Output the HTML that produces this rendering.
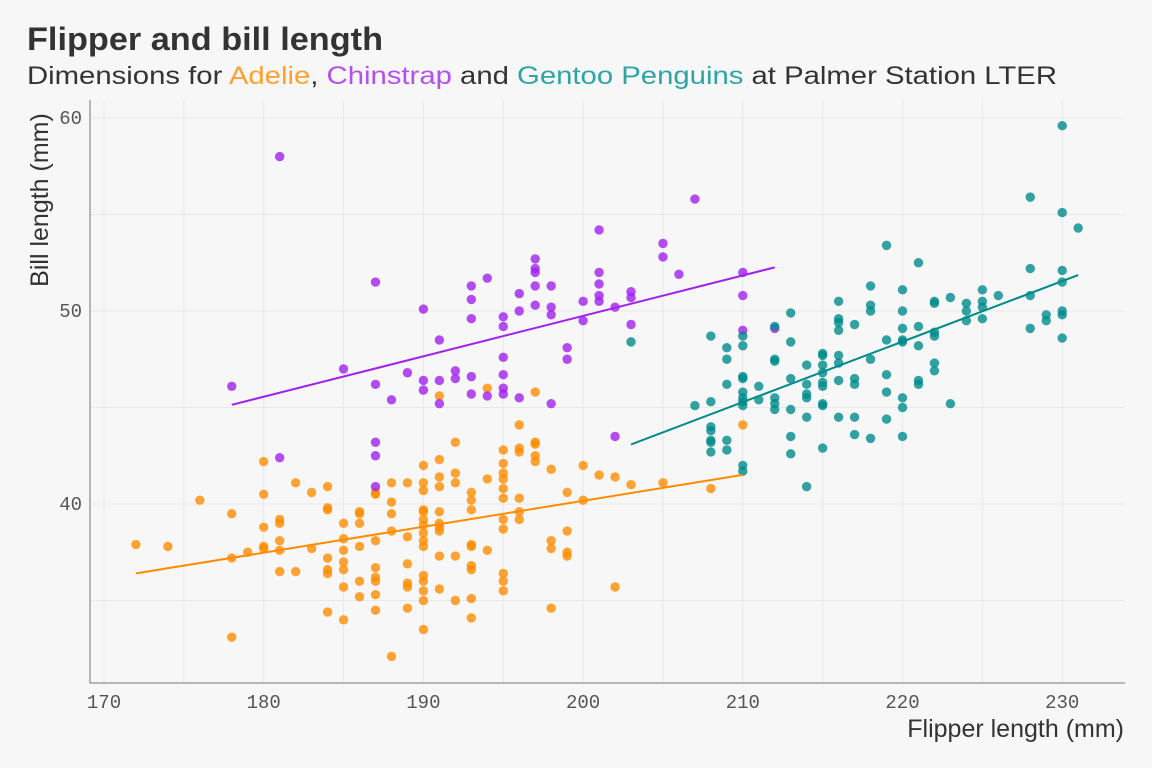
<!DOCTYPE html>
<html><head><meta charset="utf-8"><style>
html,body{margin:0;padding:0;background:#F7F7F7;}
svg{display:block;font-family:"Liberation Sans",sans-serif;}
</style></head><body>
<svg id="chart" width="1152" height="768" viewBox="0 0 1152 768" xmlns="http://www.w3.org/2000/svg">
<rect x="0" y="0" width="1152" height="768" fill="#F7F7F7"/>
<text x="27" y="50" font-size="32" font-weight="bold" fill="#333" textLength="356" lengthAdjust="spacingAndGlyphs">Flipper and bill length</text>
<text x="27" y="84" font-size="25" fill="#333" textLength="1030" lengthAdjust="spacingAndGlyphs">Dimensions for <tspan fill="#FFA033">Adelie</tspan>, <tspan fill="#B450EE">Chinstrap</tspan> and <tspan fill="#2EA5A5">Gentoo Penguins</tspan> at Palmer Station LTER</text>
<g id="grid"></g>
<g id="axes"></g>
<g id="points"></g>
<g id="lines"></g>
<text transform="translate(48,200) rotate(-90)" text-anchor="middle" font-size="25" fill="#333">Bill length (mm)</text>
<text x="1124" y="737" text-anchor="end" font-size="25" fill="#333">Flipper length (mm)</text>
</svg>
<script>
const xTicks = [170,180,190,200,210,220,230];
const xMinor = [175,185,195,205,215,225];
const yTicks = [40,50,60];
const yMinor = [35,45,55];
const adelie = [[172,37.9],[174,37.8],[176,40.2],[178,39.5],[178,37.2],[178,33.1],[179,37.5],[180,42.2],[180,40.5],[180,38.8],[180,37.8],[180,37.7],[181,39.2],[181,39.0],[181,38.1],[181,37.6],[181,36.5],[182,41.1],[182,36.5],[183,40.6],[183,37.7],[184,40.9],[184,39.8],[184,39.7],[184,37.2],[184,36.6],[184,36.4],[184,34.4],[185,39.0],[185,38.2],[185,37.6],[185,37.0],[185,36.6],[185,35.7],[185,34.0],[186,39.6],[186,39.5],[186,39.0],[186,37.8],[186,36.0],[186,35.2],[187,40.6],[187,40.5],[187,38.1],[187,36.7],[187,36.2],[187,36.0],[187,35.3],[187,34.5],[188,41.1],[188,40.1],[188,39.5],[188,38.6],[188,32.1],[189,41.1],[189,38.3],[189,36.9],[189,35.9],[189,35.7],[189,34.6],[190,42.0],[190,41.1],[190,40.7],[190,39.7],[190,39.6],[190,39.2],[190,38.9],[190,38.5],[190,38.1],[190,37.8],[190,36.3],[190,36.0],[190,35.5],[190,35.0],[190,33.5],[191,45.6],[191,42.3],[191,41.4],[191,40.9],[191,39.6],[191,39.0],[191,38.8],[191,38.6],[191,37.3],[191,35.6],[192,43.2],[192,41.6],[192,41.1],[192,37.3],[192,35.0],[193,40.6],[193,40.2],[193,39.7],[193,37.9],[193,37.8],[193,36.8],[193,36.6],[193,35.1],[193,34.1],[194,46.0],[194,41.3],[194,37.6],[195,42.8],[195,42.1],[195,41.6],[195,41.3],[195,40.8],[195,40.3],[195,39.2],[195,38.7],[195,36.4],[195,36.0],[195,35.5],[196,44.1],[196,42.9],[196,42.7],[196,40.3],[196,39.6],[196,39.2],[197,45.8],[197,43.2],[197,43.1],[197,42.5],[197,42.2],[198,41.8],[198,38.1],[198,37.7],[198,34.6],[199,40.6],[199,38.6],[199,37.5],[199,37.3],[200,42.0],[200,40.2],[201,41.5],[202,41.4],[202,35.7],[203,41.0],[205,41.1],[208,40.8],[210,44.1]];
const chinstrap = [[178,46.1],[181,58.0],[181,42.4],[185,47.0],[187,51.5],[187,46.2],[187,43.2],[187,42.5],[187,40.9],[188,45.4],[189,46.8],[190,50.1],[190,46.4],[190,45.9],[191,48.5],[191,46.4],[191,45.2],[192,46.9],[192,46.5],[193,51.3],[193,50.6],[193,49.6],[193,46.6],[193,45.7],[194,51.7],[194,45.6],[195,49.7],[195,49.2],[195,47.6],[195,46.7],[195,46.0],[195,45.7],[196,50.9],[196,50.0],[196,45.5],[197,52.7],[197,52.2],[197,52.0],[197,51.3],[197,50.3],[198,51.3],[198,50.2],[198,49.8],[198,45.2],[199,48.1],[199,47.5],[200,50.5],[200,49.5],[201,54.2],[201,52.0],[201,51.4],[201,50.8],[201,50.5],[202,50.2],[202,43.5],[203,51.0],[203,50.7],[203,49.3],[205,53.5],[205,52.8],[206,51.9],[207,55.8],[210,52.0],[210,50.8],[210,49.0],[212,49.1]];
const gentoo = [[203,48.4],[207,45.1],[208,48.7],[208,45.3],[208,44.0],[208,43.8],[208,43.3],[208,43.2],[208,42.7],[209,48.1],[209,47.5],[209,46.2],[209,43.3],[209,42.8],[210,48.7],[210,48.2],[210,46.6],[210,46.5],[210,45.8],[210,45.5],[210,45.3],[210,45.1],[210,42.0],[210,41.7],[211,46.1],[211,45.4],[212,49.2],[212,47.5],[212,47.4],[212,45.5],[212,45.2],[212,44.9],[213,49.9],[213,48.4],[213,46.5],[213,44.9],[213,43.5],[213,42.6],[214,47.2],[214,46.2],[214,45.7],[214,45.5],[214,44.5],[214,40.9],[215,47.8],[215,47.7],[215,47.2],[215,46.8],[215,46.3],[215,46.1],[215,45.2],[215,45.1],[215,42.9],[216,50.5],[216,49.6],[216,49.4],[216,49.0],[216,47.7],[216,47.3],[216,46.4],[216,44.5],[217,49.3],[217,46.5],[217,46.2],[217,44.5],[217,43.6],[218,51.3],[218,50.3],[218,50.0],[218,47.5],[218,43.4],[219,53.4],[219,48.5],[219,46.7],[219,45.8],[219,44.4],[220,51.1],[220,50.0],[220,49.1],[220,48.5],[220,48.4],[220,45.5],[220,45.0],[220,43.5],[221,52.5],[221,49.2],[221,48.2],[221,46.4],[221,46.2],[222,50.5],[222,50.4],[222,48.9],[222,48.7],[222,47.3],[222,46.9],[223,50.7],[223,45.2],[224,50.4],[224,50.0],[224,49.5],[225,51.1],[225,50.5],[225,50.2],[225,49.6],[226,50.8],[228,55.9],[228,52.2],[228,50.8],[228,49.1],[229,49.8],[229,49.5],[230,59.6],[230,55.1],[230,52.1],[230,51.5],[230,50.0],[230,49.8],[230,48.6],[231,54.3]];

const NS = 'http://www.w3.org/2000/svg';
const X0 = 90, X1 = 1125, Y0 = 100, Y1 = 683;
function xScale(v){ return 104 + (v - 170) * 15.97; }
function yScale(v){ return 504 - (v - 40) * 19.3; }
function mk(tag, attrs, parent){
  const e = document.createElementNS(NS, tag);
  for (const k in attrs) e.setAttribute(k, attrs[k]);
  parent.appendChild(e);
  return e;
}
const grid = document.getElementById('grid');
const axes = document.getElementById('axes');
const pts = document.getElementById('points');
const lines = document.getElementById('lines');

xMinor.concat(xTicks).forEach(t => {
  const l = mk('line', {x1: xScale(t), x2: xScale(t), y1: Y0, y2: Y1, stroke: '#E8E8E8', 'stroke-width': 1}, grid);
  
  
});
yMinor.concat(yTicks).forEach(t => {
  const l = mk('line', {x1: X0, x2: X1, y1: yScale(t), y2: yScale(t), stroke: '#E8E8E8', 'stroke-width': 1}, grid);
  
  
});
const ya = mk('line', {x1: X0, x2: X0, y1: Y0, y2: Y1, stroke: '#777', 'stroke-width': 1}, axes);


const xa = mk('line', {x1: X0, x2: X1, y1: Y1, y2: Y1, stroke: '#777', 'stroke-width': 1}, axes);


xTicks.forEach(t => {
  const tx = mk('text', {x: xScale(t), y: Y1 + 25, 'text-anchor': 'middle', 'font-size': 19, fill: '#555', 'font-family': '"Liberation Mono", monospace'}, axes);
  tx.textContent = t;
  
  
});
yTicks.forEach(t => {
  const tx = mk('text', {x: 82, y: yScale(t) + 6, 'text-anchor': 'end', 'font-size': 19, fill: '#555', 'font-family': '"Liberation Mono", monospace'}, axes);
  tx.textContent = t;
  
  
});

const series = [
  {name: 'adelie', data: adelie, color: '#FF8C00'},
  {name: 'chinstrap', data: chinstrap, color: '#A020F0'},
  {name: 'gentoo', data: gentoo, color: '#008B8B'}
];
series.forEach(s => {
  s.data.forEach(d => {
    const c = mk('circle', {cx: xScale(d[0]), cy: yScale(d[1]), r: 4.7, fill: s.color, 'fill-opacity': 0.8}, pts);
    
    
  });
});
series.forEach(s => {
  const n = s.data.length;
  let mx = 0, my = 0;
  s.data.forEach(d => { mx += d[0]; my += d[1]; });
  mx /= n; my /= n;
  let sxy = 0, sxx = 0, lo = Infinity, hi = -Infinity;
  s.data.forEach(d => { sxy += (d[0]-mx)*(d[1]-my); sxx += (d[0]-mx)*(d[0]-mx); lo = Math.min(lo, d[0]); hi = Math.max(hi, d[0]); });
  const b = sxy / sxx, a = my - b * mx;
  const l = mk('line', {x1: xScale(lo), y1: yScale(a + b*lo), x2: xScale(hi), y2: yScale(a + b*hi), stroke: s.color, 'stroke-width': 2}, lines);
  
  
});
</script>
</body></html>
